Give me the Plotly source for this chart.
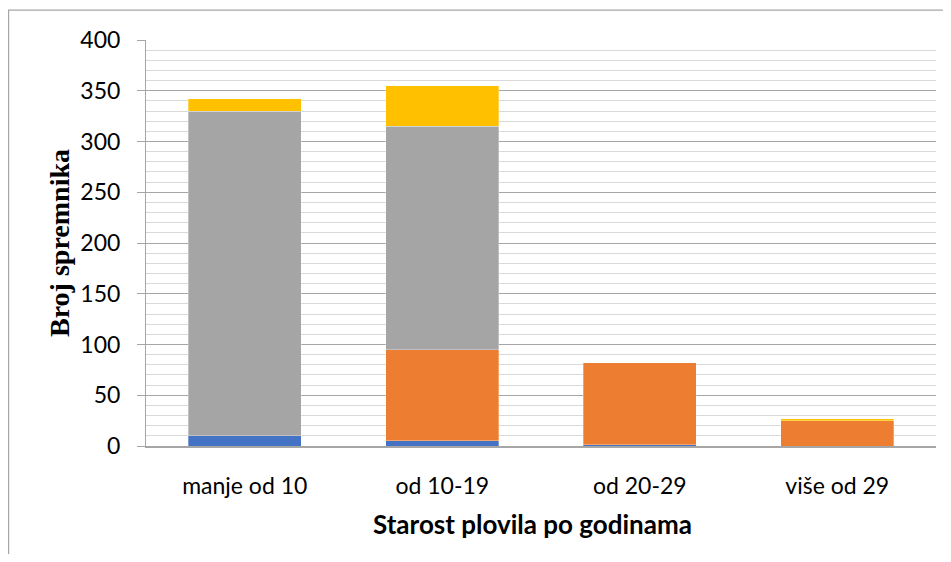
import plotly.graph_objects as go

categories = ["manje od 10", "od 10-19", "od 20-29", "više od 29"]
series_blue = [10, 5, 1, 0]
series_orange = [0, 90, 81, 25]
series_gray = [320, 220, 0, 0]
series_yellow = [12, 40, 0, 2]
y_ticks = [0, 50, 100, 150, 200, 250, 300, 350, 400]

colors = ["#4472C4", "#ED7D31", "#A5A5A5", "#FFC000"]
names = ["Serija 1", "Serija 2", "Serija 3", "Serija 4"]
data = [series_blue, series_orange, series_gray, series_yellow]

fig = go.Figure()
for name, vals, col in zip(names, data, colors):
    fig.add_trace(go.Bar(x=categories, y=vals, name=name, marker_color=col,
                         marker_line=dict(width=0.6, color="rgba(255,255,255,0.5)")))

# page has an 8px body margin; figure sized to fit the 951x562 window
W, H = 935, 546
ml, mt = 138, 32
plot_right, plot_bottom = 928, 438.5
mr = W - plot_right
mb = H - plot_bottom
pw = plot_right - ml
ph = plot_bottom - mt

fig.update_layout(
    barmode="stack",
    bargap=0.43,
    width=W, height=H,
    margin=dict(l=ml, r=mr, t=mt, b=mb, pad=0),
    paper_bgcolor="white",
    plot_bgcolor="white",
    showlegend=False,
    font=dict(family="Lato, Open Sans, sans-serif", color="black"),
    xaxis=dict(
        tickfont=dict(size=23, family="Lato, sans-serif"),
        showline=True, linecolor="#A6A6A6", linewidth=1.5,
        ticks="", showgrid=False,
        ticklabelstandoff=19,
    ),
    yaxis=dict(
        range=[0, 400],
        tickvals=y_ticks,
        tickfont=dict(size=23, family="Lato, sans-serif"),
        showline=True, linecolor="#A6A6A6", linewidth=1,
        ticks="outside", ticklen=8, tickcolor="#A6A6A6",
        ticklabelstandoff=12,
        showgrid=True, gridcolor="#A6A6A6", gridwidth=1,
        zeroline=False,
        minor=dict(dtick=10, showgrid=True, gridcolor="#D9D9D9", gridwidth=1, ticks=""),
        title=dict(text="<b>Broj spremnika</b>",
                   font=dict(size=28, family="Liberation Serif, Times New Roman, serif"),
                   standoff=2),
    ),
    annotations=[dict(text="<b>Starost plovila po godinama</b>", xref="paper", yref="paper",
                      x=(524.5 - ml) / pw, y=-78 / ph, xanchor="center", yanchor="middle",
                      showarrow=False, font=dict(size=26, family="Lato, sans-serif"))],
    shapes=[dict(type="rect", xref="paper", yref="paper",
                 x0=(0.6 - ml) / pw, x1=1.3, y0=-0.6, y1=(plot_bottom - 2) / ph,
                 line=dict(color="#A6A6A6", width=1.2), fillcolor="rgba(0,0,0,0)",
                 layer="below")],
)

fig.write_html("out.html")
